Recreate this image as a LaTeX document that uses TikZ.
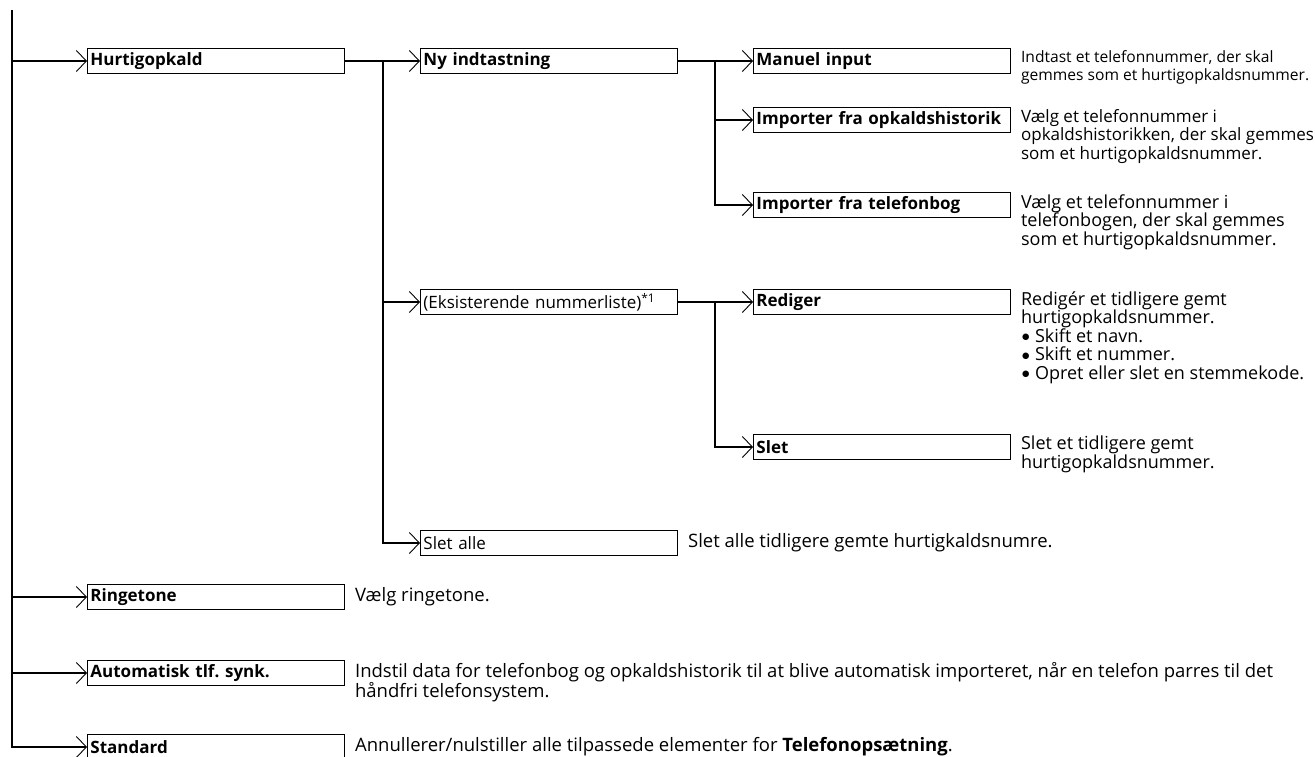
\documentclass[tikz,border=0pt]{standalone}
\usepackage{fontspec}
\setmainfont{Open Sans}
\newfontfamily\symfont{DejaVu Sans}
\usetikzlibrary{positioning,arrows.meta}

\newcommand{\dotitem}{\makebox[14pt][l]{\hspace{1pt}\raisebox{0.25ex}{\symfont\fontsize{8.5}{8.5}\selectfont ●}}}
\frenchspacing

\begin{document}
\begin{tikzpicture}[x=1pt, y=-1pt,
    conn/.style={line width=1.7pt, -{Straight Barb[length=10pt, width=21pt, line width=0.9pt]}},
    menu/.style={draw, line width=0.9pt, anchor=west, minimum height=25pt, text width=251pt,
        inner xsep=3pt, inner ysep=0pt, align=left, font=\bfseries\fontsize{17}{18}\selectfont},
    item/.style={menu, font=\fontsize{17}{18}\selectfont},
    desc/.style={anchor=north west, inner sep=0pt, align=left, font=\fontsize{18}{18.5}\selectfont}]
    \useasboundingbox (0,0) rectangle (1315,756);

    % Branch points
    \coordinate (top) at (12,10);
    \coordinate (b1) at (383,0);
    \coordinate (b2) at (715,0);

    % First level
    \node[menu] (hurtig) at (87,61) {Hurtigopkald};
    \node[menu] (ringe) at (87,597) {Ringetone};
    \node[menu] (auto) at (87,673) {Automatisk tlf. synk.};
    \node[menu] (std) at (87,747) {Standard};

    % Second level
    \node[menu] (ny) at (420,61) {Ny indtastning};
    \node[item] (eks) at (420,302) {(Eksisterende nummerliste)\textsuperscript{*1}};
    \node[item] (sletalle) at (420,543) {Slet alle};

    % Third level
    \node[menu] (manuel) at (753,61) {Manuel input};
    \node[menu] (impopk) at (753,120) {Importer fra opkaldshistorik};
    \node[menu] (imptlf) at (753,205) {Importer fra telefonbog};
    \node[menu] (redig) at (753,302) {Rediger};
    \node[menu] (slet) at (753,447) {Slet};

    % Connections
    \draw[conn] (top) |- (std);
    \foreach \n in {hurtig, ringe, auto}
        \draw[conn] (top |- \n) -- (\n);
    \draw[conn] (hurtig) -- (ny);
    \draw[conn] (b1 |- ny) |- (sletalle);
    \draw[conn] (b1 |- eks) -- (eks);
    \draw[conn] (ny) -- (manuel);
    \draw[conn] (b2 |- manuel) |- (imptlf);
    \draw[conn] (b2 |- impopk) -- (impopk);
    \draw[conn] (eks) -- (redig);
    \draw[conn] (b2 |- redig) |- (slet);

    % Descriptions
    \node[desc, font=\fontsize{15.6}{18}\selectfont] (manueld) at ([xshift=10pt, yshift=-2pt]manuel.north east)
        {Indtast et telefonnummer, der skal\\gemmes som et hurtigopkaldsnummer.};
    \node[desc, font=\fontsize{17}{18.5}\selectfont] (impopkd) at ([xshift=10pt, yshift=-2pt]impopk.north east)
        {Vælg et telefonnummer i\\opkaldshistorikken, der skal gemmes\\som et hurtigopkaldsnummer.};
    \node[desc] (imptlfd) at ([xshift=10pt, yshift=-2pt]imptlf.north east)
        {Vælg et telefonnummer i\\telefonbogen, der skal gemmes\\som et hurtigopkaldsnummer.};
    \node[desc] (redigd) at ([xshift=10pt, yshift=-2pt]redig.north east)
        {Redigér et tidligere gemt\\hurtigopkaldsnummer.\\
         \dotitem Skift et navn.\\
         \dotitem Skift et nummer.\\
         \dotitem Opret eller slet en stemmekode.};
    \node[desc] (sletd) at ([xshift=10pt, yshift=-2pt]slet.north east)
        {Slet et tidligere gemt\\hurtigopkaldsnummer.};
    \node[desc, anchor=west, font=\fontsize{18.5}{18.5}\selectfont] (sletalled) at ([xshift=10pt]sletalle.east)
        {Slet alle tidligere gemte hurtigkaldsnumre.};
    \node[desc, anchor=west, font=\fontsize{18.5}{18.5}\selectfont] (ringed) at ([xshift=10pt]ringe.east)
        {Vælg ringetone.};
    \node[desc, font=\fontsize{18.5}{18.5}\selectfont] (autod) at ([xshift=10pt, yshift=-2pt]auto.north east)
        {Indstil data for telefonbog og opkaldshistorik til at blive automatisk importeret, når en telefon parres til det\\håndfri telefonsystem.};
    \node[desc, anchor=west, font=\fontsize{18.5}{18.5}\selectfont] (stdd) at ([xshift=10pt]std.east)
        {Annullerer/nulstiller alle tilpassede elementer for \textbf{Telefonopsætning}.};
\end{tikzpicture}
\end{document}
